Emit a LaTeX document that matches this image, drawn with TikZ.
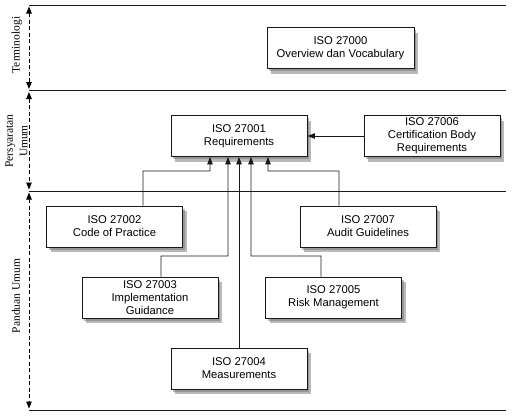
\documentclass[tikz,border=0pt]{standalone}
\usepackage{fontspec}
\setmainfont{Liberation Serif}
\newfontfamily\boxfont{Liberation Sans}
\usetikzlibrary{arrows.meta,shadows}
\begin{document}
\begin{tikzpicture}[x=1bp,y=-1bp,
  isobox/.style={draw=black!90, line width=0.9bp, fill=white, minimum width=136bp, minimum height=41bp,
    inner sep=1bp, align=center, font=\boxfont\fontsize{11.3}{13}\selectfont,
    double copy shadow={shadow xshift=2bp, shadow yshift=-2.5bp, fill=black!55, draw=none, opacity=0.5}},
  conn/.style={draw=black!90, line width=0.9bp, -{Triangle[length=7.5bp,width=5.5bp]}},
  sepline/.style={draw=black!90, line width=0.9bp},
  span/.style={draw=black, line width=0.9bp, dash pattern=on 4bp off 2.5bp, {Triangle[length=7bp,width=5.5bp]}-{Triangle[length=7bp,width=5.5bp]}, shorten <=1.5bp, shorten >=1.5bp},
  lbl/.style={rotate=90, align=center, font=\fontsize{11.5}{13}\selectfont}]
\useasboundingbox (0,0) rectangle (516,415);
% separators
\coordinate (s0l) at (29,5);   \coordinate (s0r) at (506,5);
\coordinate (s1l) at (29,90.5); \coordinate (s1r) at (506,90.5);
\coordinate (s2l) at (29,191); \coordinate (s2r) at (506,191);
\coordinate (s3l) at (29,410); \coordinate (s3r) at (506,410);
\draw[sepline] (s0l) -- (s0r);
\draw[sepline] (s1l) -- (s1r);
\draw[sepline] (s2l) -- (s2r);
\draw[sepline] (s3l) -- (s3r);
% spans
\draw[span] (s0l) -- (s1l);
\draw[span] (s1l) -- (s2l);
\draw[span] (s2l) -- (s3l);
\node[lbl] (t1) at (17,45) {Terminologi};
\node[lbl] (t2) at (16.5,141) {Persyaratan\\[1.5bp]Umum};
\node[lbl] (t3) at (16,296) {Panduan Umum};
% boxes
\node[isobox, minimum width=147bp] (n0) at (340.5,48) {ISO 27000\\Overview dan Vocabulary};
\node[isobox] (n1) at (239,136) {ISO 27001\\Requirements};
\node[isobox] (n6) at (432,136) {ISO 27006\\Certification Body\\Requirements};
\node[isobox] (n2) at (114.5,226.5) {ISO 27002\\Code of Practice};
\node[isobox] (n7) at (368,226.5) {ISO 27007\\Audit Guidelines};
\node[isobox] (n3) at (150,297.5) {ISO 27003\\Implementation\\Guidance};
\node[isobox] (n5) at (333.5,297.5) {ISO 27005\\Risk Management};
\node[isobox] (n4) at (239,368.5) {ISO 27004\\Measurements};
% connectors
\draw[conn] (n6.west) -- (n1.east);
\draw[conn] ([xshift=28.5bp]n2.north) |- (210,171) -- ([xshift=-29bp]n1.south);
\draw[conn] ([xshift=11bp]n3.north) |- (228,256) -- ([xshift=-11bp]n1.south);
\draw[conn] (n4.north) -- (n1.south);
\draw[conn] ([xshift=-12.5bp]n5.north) |- (251,256) -- ([xshift=12bp]n1.south);
\draw[conn] ([xshift=-29bp]n7.north) |- (268,171) -- ([xshift=29bp]n1.south);
\end{tikzpicture}
\end{document}
